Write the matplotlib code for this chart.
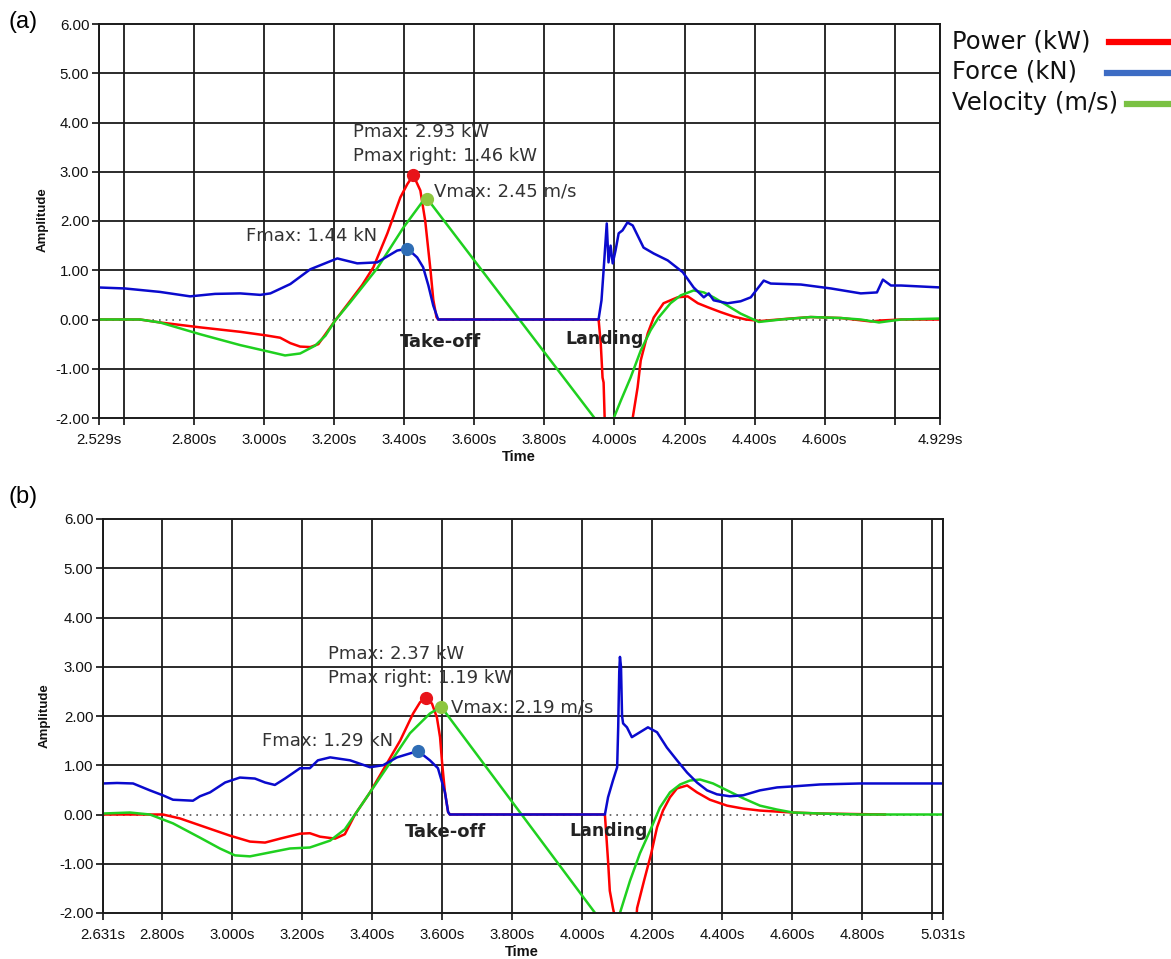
import matplotlib
matplotlib.use('Agg')
import matplotlib.pyplot as plt
from matplotlib.lines import Line2D

W, H = 1171, 959

# ---------------- Panel (a) data ----------------
a_xlim = (2.529, 4.929)
a_xticks = [2.529, 2.6, 2.8, 3.0, 3.2, 3.4, 3.6, 3.8, 4.0, 4.2, 4.4, 4.6, 4.8, 4.929]
a_xlabels = ['2.529s', '', '2.800s', '3.000s', '3.200s', '3.400s', '3.600s', '3.800s',
             '4.000s', '4.200s', '4.400s', '4.600s', '', '4.929s']

a_force_t = [2.529, 2.603, 2.703, 2.789, 2.860, 2.932, 2.989, 3.018, 3.075, 3.132, 3.209, 3.266,
             3.323, 3.380, 3.409, 3.437, 3.454, 3.469, 3.483, 3.497, 3.952, 3.955, 3.963, 3.969,
             3.978, 3.983, 3.989, 3.995, 4.003, 4.012, 4.023, 4.037, 4.052, 4.083, 4.112, 4.152,
             4.195, 4.226, 4.255, 4.269, 4.283, 4.323, 4.360, 4.389, 4.426, 4.446, 4.532, 4.618,
             4.703, 4.749, 4.766, 4.789, 4.818, 4.932]
a_force_v = [0.65, 0.63, 0.56, 0.47, 0.52, 0.53, 0.50, 0.53, 0.72, 1.02, 1.24, 1.14,
             1.16, 1.40, 1.44, 1.26, 1.06, 0.69, 0.28, 0.0, 0.0, 0.02, 0.39, 1.0,
             1.95, 1.16, 1.50, 1.14, 1.40, 1.75, 1.81, 1.97, 1.91, 1.46, 1.34, 1.20,
             0.96, 0.65, 0.45, 0.53, 0.39, 0.33, 0.37, 0.45, 0.79, 0.73, 0.71, 0.63,
             0.53, 0.55, 0.81, 0.69, 0.69, 0.65]

a_power_t = [2.529, 2.646, 2.703, 2.818, 2.932, 3.003, 3.046, 3.075, 3.103, 3.132, 3.155, 3.175,
             3.203, 3.246, 3.280, 3.312, 3.352, 3.389, 3.409, 3.426, 3.446, 3.460, 3.469, 3.475,
             3.483, 3.492, 3.497, 3.949, 3.955, 3.961, 3.966, 3.969, 3.972, 3.975, 4.003, 4.046,
             4.052, 4.066, 4.075, 4.095, 4.112, 4.140, 4.180, 4.209, 4.238, 4.266, 4.303, 4.340,
             4.375, 4.418, 4.503, 4.560, 4.646, 4.732, 4.760, 4.818, 4.932]
a_power_v = [0.0, 0.0, -0.06, -0.16, -0.25, -0.32, -0.37, -0.48, -0.55, -0.56, -0.50, -0.30,
             -0.02, 0.38, 0.70, 1.06, 1.75, 2.48, 2.75, 2.93, 2.62, 2.0, 1.4, 1.0,
             0.4, 0.05, 0.0, 0.0, -0.02, -0.5, -1.18, -1.28, -2.0, -2.8, -3.6, -2.3,
             -2.0, -1.38, -0.83, -0.28, 0.04, 0.33, 0.45, 0.47, 0.33, 0.25, 0.15, 0.06,
             0.0, -0.03, 0.02, 0.05, 0.03, -0.04, -0.02, 0.0, 0.0]

a_vel_t = [2.529, 2.646, 2.703, 2.818, 2.932, 3.018, 3.060, 3.103, 3.146, 3.175, 3.203, 3.246,
           3.323, 3.398, 3.455, 3.466, 3.943, 3.966, 3.998, 4.018, 4.046, 4.075, 4.103, 4.126,
           4.160, 4.189, 4.226, 4.255, 4.283, 4.323, 4.360, 4.412, 4.475, 4.560, 4.646, 4.703,
           4.755, 4.818, 4.932]
a_vel_v = [0.0, 0.0, -0.06, -0.30, -0.52, -0.66, -0.73, -0.69, -0.53, -0.33, -0.02, 0.35,
           1.04, 1.87, 2.42, 2.45, -2.0, -2.3, -2.0, -1.65, -1.18, -0.63, -0.22, 0.04,
           0.33, 0.49, 0.59, 0.55, 0.45, 0.28, 0.12, -0.05, 0.0, 0.05, 0.03, 0.0,
           -0.06, 0.0, 0.02]

a_pmax = (3.426, 2.93)
a_vmax = (3.466, 2.45)
a_fmax = (3.409, 1.44)

# ---------------- Panel (b) data ----------------
b_xlim = (2.631, 5.031)
b_xticks = [2.631, 2.8, 3.0, 3.2, 3.4, 3.6, 3.8, 4.0, 4.2, 4.4, 4.6, 4.8, 5.0, 5.031]
b_xlabels = ['2.631s', '2.800s', '3.000s', '3.200s', '3.400s', '3.600s', '3.800s',
             '4.000s', '4.200s', '4.400s', '4.600s', '4.800s', '', '5.031s']

b_force_t = [2.631, 2.671, 2.717, 2.765, 2.802, 2.831, 2.888, 2.908, 2.937, 2.980, 3.022, 3.065,
             3.094, 3.122, 3.151, 3.194, 3.222, 3.245, 3.280, 3.337, 3.394, 3.431, 3.471, 3.508,
             3.531, 3.565, 3.588, 3.608, 3.617, 3.622, 4.065, 4.074, 4.088, 4.100, 4.103, 4.106,
             4.108, 4.111, 4.114, 4.117, 4.128, 4.142, 4.165, 4.188, 4.214, 4.242, 4.271, 4.300,
             4.328, 4.357, 4.385, 4.422, 4.460, 4.508, 4.557, 4.602, 4.680, 4.794, 5.031]
b_force_v = [0.63, 0.64, 0.63, 0.49, 0.39, 0.30, 0.28, 0.37, 0.45, 0.65, 0.75, 0.73,
             0.65, 0.60, 0.73, 0.94, 0.94, 1.10, 1.16, 1.10, 0.96, 1.00, 1.16, 1.24,
             1.29, 1.10, 0.94, 0.45, 0.05, 0.0, 0.0, 0.35, 0.69, 0.96, 1.77, 2.90,
             3.20, 3.00, 2.00, 1.85, 1.77, 1.57, 1.67, 1.77, 1.67, 1.36, 1.10, 0.85,
             0.65, 0.49, 0.41, 0.37, 0.39, 0.49, 0.55, 0.57, 0.61, 0.63, 0.63]

b_power_t = [2.631, 2.802, 2.851, 2.908, 2.994, 3.051, 3.094, 3.137, 3.194, 3.222, 3.251, 3.294,
             3.322, 3.351, 3.394, 3.431, 3.480, 3.517, 3.537, 3.554, 3.571, 3.585, 3.594, 3.600,
             3.608, 3.617, 3.622, 4.065, 4.074, 4.079, 4.088, 4.094, 4.123, 4.154, 4.157, 4.177,
             4.197, 4.214, 4.231, 4.251, 4.271, 4.300, 4.328, 4.365, 4.414, 4.460, 4.508, 4.602,
             4.680, 4.865]
b_power_v = [0.0, 0.0, -0.08, -0.22, -0.43, -0.55, -0.57, -0.49, -0.39, -0.38, -0.45, -0.49,
             -0.40, 0.0, 0.45, 0.90, 1.50, 2.05, 2.28, 2.37, 2.25, 1.97, 1.57, 1.04,
             0.45, 0.05, 0.0, 0.0, -0.94, -1.55, -1.90, -2.10, -3.20, -2.20, -1.90, -1.34,
             -0.80, -0.26, 0.08, 0.35, 0.53, 0.59, 0.45, 0.30, 0.18, 0.12, 0.08, 0.04,
             0.02, 0.0]

b_vel_t = [2.631, 2.708, 2.765, 2.831, 2.908, 2.965, 3.008, 3.051, 3.108, 3.165, 3.222, 3.280,
           3.322, 3.351, 3.394, 3.437, 3.508, 3.565, 3.597, 4.037, 4.074, 4.108, 4.137, 4.165,
           4.194, 4.222, 4.251, 4.280, 4.308, 4.337, 4.374, 4.414, 4.460, 4.508, 4.557, 4.602,
           4.680, 4.794, 5.031]
b_vel_v = [0.02, 0.04, 0.0, -0.18, -0.47, -0.69, -0.83, -0.85, -0.77, -0.69, -0.67, -0.53,
           -0.30, 0.0, 0.45, 0.90, 1.65, 2.05, 2.19, -2.0, -2.36, -2.0, -1.34, -0.79,
           -0.33, 0.14, 0.45, 0.61, 0.69, 0.71, 0.63, 0.49, 0.33, 0.18, 0.10, 0.04,
           0.02, 0.0, 0.0]

b_pmax = (3.554, 2.37)
b_vmax = (3.597, 2.19)
b_fmax = (3.531, 1.29)

# ---------------- Common ----------------
y_ticks = [-2, -1, 0, 1, 2, 3, 4, 5, 6]
legend_labels = ['Power (kW)', 'Force (kN)', 'Velocity (m/s)']

RED = '#ff0000'
BLUE = '#0a0acd'
GREEN = '#1fd01f'

fig = plt.figure(figsize=(W / 100, H / 100), dpi=100)


def fx(px):
    return px / W


def fy(py):
    return 1 - py / H


def panel(rect, xlim, xticks, xlabels, pw, fo, ve, pmax, vmax, fmax,
          ann, to_pos, land_pos):
    ax = fig.add_axes(rect)
    ax.set_xlim(*xlim)
    ax.set_ylim(-2, 6)
    ax.set_xticks(xticks)
    ax.set_xticklabels(xlabels)
    ax.set_yticks(y_ticks)
    ax.set_yticklabels(['%.2f' % v for v in y_ticks])
    for lab in ax.get_xticklabels() + ax.get_yticklabels():
        lab.set_fontfamily('Liberation Sans')
        lab.set_fontsize(10.8)
        lab.set_color('#111111')
    ax.tick_params(axis='both', direction='out', length=5, width=1.3, color='#222222')
    ax.tick_params(axis='x', pad=6)
    ax.tick_params(axis='y', pad=2)
    for s in ax.spines.values():
        s.set_color('#1a1a1a')
        s.set_linewidth(1.4)
    ax.set_axisbelow(True)
    for xt in xticks:
        ax.axvline(xt, color='#1a1a1a', lw=1.3, zorder=0.5)
    for yt in y_ticks:
        if yt == 0:
            ax.axhline(0, color='#555555', lw=1.2, ls=(0, (1, 3)), zorder=0.5)
        elif -2 < yt < 6:
            ax.axhline(yt, color='#1a1a1a', lw=1.3, zorder=0.5)
    ax.plot(pw[0], pw[1], color=RED, lw=1.8, zorder=2)
    ax.plot(ve[0], ve[1], color=GREEN, lw=1.8, zorder=2.2)
    ax.plot(fo[0], fo[1], color=BLUE, lw=1.8, zorder=2.4)
    ax.plot([pmax[0]], [pmax[1]], 'o', color='#e8141a', ms=8.5, zorder=3)
    ax.plot([vmax[0]], [vmax[1]], 'o', color='#8dc63f', ms=8.5, zorder=3)
    ax.plot([fmax[0]], [fmax[1]], 'o', color='#2f6db5', ms=8.5, zorder=3)
    for (txt, px, py) in ann:
        fig.text(fx(px), fy(py), txt, fontsize=13, color='#333333',
                 family='DejaVu Sans', ha='left', va='center')
    fig.text(fx(to_pos[0]), fy(to_pos[1]), 'Take-off', fontsize=13, weight='bold',
             color='#222222', family='DejaVu Sans', ha='left', va='center')
    fig.text(fx(land_pos[0]), fy(land_pos[1]), 'Landing', fontsize=12.5, weight='bold',
             color='#222222', family='DejaVu Sans', ha='left', va='center')
    return ax


# panel (a): left 99, right 940, top 24, bottom 418
axa = panel([fx(99), fy(418), (940 - 99) / W, (418 - 24) / H], a_xlim, a_xticks, a_xlabels,
            (a_power_t, a_power_v), (a_force_t, a_force_v), (a_vel_t, a_vel_v),
            a_pmax, a_vmax, a_fmax,
            [('Pmax: %.2f kW' % a_pmax[1], 353, 132), ('Pmax right: 1.46 kW', 353, 156),
             ('Vmax: %.2f m/s' % a_vmax[1], 434, 191), ('Fmax: %.2f kN' % a_fmax[1], 246, 236)],
            (400, 342), (565, 339))

# panel (b): left 103, right 943, top 519, bottom 913
axb = panel([fx(103), fy(913), (943 - 103) / W, (913 - 519) / H], b_xlim, b_xticks, b_xlabels,
            (b_power_t, b_power_v), (b_force_t, b_force_v), (b_vel_t, b_vel_v),
            b_pmax, b_vmax, b_fmax,
            [('Pmax: %.2f kW' % b_pmax[1], 328, 654), ('Pmax right: 1.19 kW', 328, 678),
             ('Vmax: %.2f m/s' % b_vmax[1], 451, 707), ('Fmax: %.2f kN' % b_fmax[1], 262, 741)],
            (405, 832), (569, 831))

# axis titles
for (px, py) in [(43, 220), (45, 716)]:
    fig.text(fx(px), fy(py), 'Amplitude', rotation=90, fontsize=9.5, weight='bold',
             family='Liberation Sans', ha='center', va='center', color='#111111')
for (px, py) in [(519, 457), (522, 952)]:
    fig.text(fx(px), fy(py), 'Time', fontsize=10.5, weight='bold',
             family='Liberation Sans', ha='center', va='center', color='#111111')

# panel letters
fig.text(fx(9), fy(22), '(a)', fontsize=17, family='Liberation Sans', ha='left', va='center')
fig.text(fx(9), fy(497), '(b)', fontsize=17, family='Liberation Sans', ha='left', va='center')

# legend (outside top-right)
leg_rows = [(legend_labels[0], 41, '#ff0000', 1109),
            (legend_labels[1], 72, '#3d6cc4', 1107),
            (legend_labels[2], 103, '#7ac143', 1127)]
for txt, py, col, x0 in leg_rows:
    fig.text(fx(952), fy(py), txt, fontsize=17.5, family='DejaVu Sans',
             ha='left', va='center', color='#111111')
    fig.add_artist(Line2D([fx(x0), fx(1171)], [fy(py + 1), fy(py + 1)], color=col, lw=4.5,
                          transform=fig.transFigure))

fig.savefig('out.png', dpi=100)
